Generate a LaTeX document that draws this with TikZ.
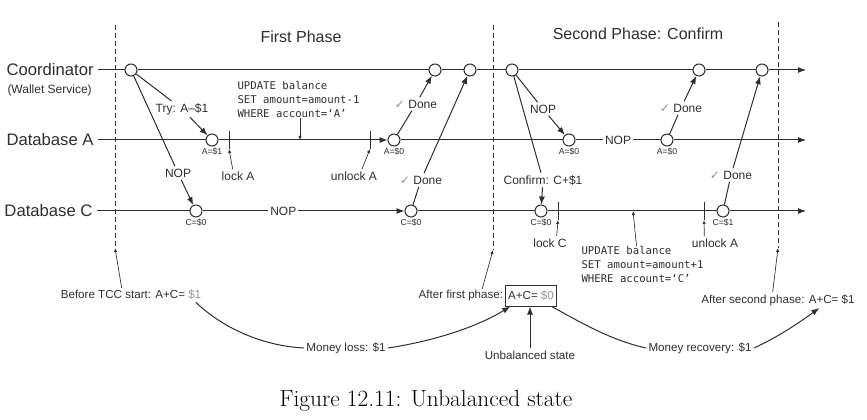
\documentclass[tikz,border=0pt]{standalone}
\usepackage{fontspec}
\usetikzlibrary{arrows.meta}
\newfontfamily\sansfam{Liberation Sans}
\newfontfamily\monofam{DejaVu Sans Mono}
\newfontfamily\checkfam{DejaVu Sans}
\definecolor{ink}{gray}{0.18}
\definecolor{dimtext}{gray}{0.58}
\newcommand{\donemark}{{\checkfam\color{dimtext}✓}}

\tikzset{every picture/.style={line width=0.75pt}}
\tikzset{
  evt/.style={circle,draw,fill=white,minimum size=9pt,inner sep=0pt},
  val/.style={font=\sansfam\fontsize{6.5}{7}\selectfont,inner sep=1pt},
  lane/.style={font=\sansfam\fontsize{12.5}{14}\selectfont,inner sep=3pt,anchor=west},
  phasetitle/.style={font=\sansfam\fontsize{12}{14}\selectfont},
  msg/.style={font=\sansfam\fontsize{9}{10}\selectfont,inner sep=1.5pt},
  note/.style={font=\sansfam\fontsize{8.7}{10}\selectfont,inner sep=1.5pt},
  codetext/.style={font=\monofam\fontsize{8}{10.5}\selectfont,align=left,inner sep=0pt,anchor=north west},
  fwd/.style={-{Latex[length=6pt,width=4.5pt]}},
  hint/.style={line width=0.5pt,-{Latex[length=3pt,width=2.5pt]}},
  phaseline/.style={line width=0.6pt,dash pattern=on 4pt off 2pt}
}

\begin{document}
\begin{tikzpicture}[x=0.75pt,y=0.75pt,yscale=-1,xscale=1,color=ink]
    \useasboundingbox (0,0) rectangle (867,420);
    % Phase borders
    \coordinate (d1t) at (115,25);  \coordinate (d1b) at (115,248);
    \coordinate (d2t) at (493,25);  \coordinate (d2b) at (493,250);
    \coordinate (d3t) at (778,22);  \coordinate (d3b) at (778,248);
    \draw[phaseline] (d1t) -- (d1b);
    \draw[phaseline] (d2t) -- (d2b);
    \draw[phaseline] (d3t) -- (d3b);
    % Text Node
    \node[phasetitle] (first) at (301,37) {First Phase};
    \node[phasetitle] (second) at (638,34) {Second Phase: Confirm};
    % Lane labels
    \node[lane] (coord) at (2,70) {Coordinator};
    \node[lane,font=\sansfam\fontsize{9}{10}\selectfont] (wallet) at (3,90) {(Wallet Service)};
    \node[lane] (dbA) at (2,140) {Database A};
    \node[lane] (dbC) at (0,211) {Database C};
    % Coordinator events
    \node[evt] (co1) at (131,70) {};
    \node[evt] (co2) at (435,70) {};
    \node[evt] (co3) at (470,70) {};
    \node[evt] (co4) at (512,70) {};
    \node[evt] (co5) at (699,70) {};
    \node[evt] (co6) at (762,70) {};
    % Database A events
    \node[evt,label={[val]below:A=\$1}] (da1) at (212,140) {};
    \node[evt,label={[val]below:A=\$0}] (da2) at (394,140) {};
    \node[evt,label={[val]below:A=\$0}] (da3) at (569,140) {};
    \node[evt,label={[val]below:A=\$0}] (da4) at (667,140) {};
    % Database C events
    \node[evt,label={[val]below:C=\$0}] (dc1) at (196,211) {};
    \node[evt,label={[val]below:C=\$0}] (dc2) at (411,211) {};
    \node[evt,label={[val]below:C=\$0}] (dc3) at (541,211) {};
    \node[evt,label={[val]below:C=\$1}] (dc4) at (723,211) {};
    \coordinate (coend) at (806,70);
    \coordinate (daend) at (806,140);
    \coordinate (dcend) at (806,211);
    %Straight Lines
    \draw[fwd] (coord) -- (co1) -- (co2) -- (co3) -- (co4) -- (co5) -- (co6) -- (coend);
    \draw (dbA) -- (da1);
    \draw[fwd] (da1) -- (da2);
    \draw (da2) -- (da3) -- node[msg,fill=white] (nopa) {NOP} (da4);
    \draw[fwd] (da4) -- (daend);
    \draw (dbC) -- (dc1);
    \draw[fwd] (dc1) -- node[msg,fill=white,pos=0.4] (nopc) {NOP} (dc2);
    \draw (dc2) -- (dc3) -- (dc4);
    \draw[fwd] (dc4) -- (dcend);
    % Lock ticks
    \coordinate (lka1) at (229,131); \coordinate (lka2) at (229,149);
    \coordinate (ula1) at (370,131); \coordinate (ula2) at (370,149);
    \coordinate (lkc1) at (558,202); \coordinate (lkc2) at (558,220);
    \coordinate (ulc1) at (704,202); \coordinate (ulc2) at (704,220);
    \draw (lka1) -- (lka2);
    \draw (ula1) -- (ula2);
    \draw (lkc1) -- (lkc2);
    \draw (ulc1) -- (ulc2);
    \node[msg] (locka) at (238,176) {lock A};
    \node[msg] (unlocka) at (354,176) {unlock A};
    \node[msg] (lockc) at (550,243) {lock C};
    \node[msg] (unlockc) at (715,243) {unlock A};
    \draw[hint] ([xshift=-4pt]locka.north) -- (lka2);
    \draw[hint] ([xshift=6pt]unlocka.north) -- (ula2);
    \draw[hint] ([xshift=5pt]lockc.north) -- (lkc2);
    \draw[hint] ([xshift=-8pt]unlockc.north) -- (ulc2);
    % Messages, first phase
    \node[msg] (try) at (182,109) {Try: A–\$1};
    \node[msg] (nop1) at (178,173) {NOP};
    \draw (co1) -- (try);
    \draw[fwd] (try) -- (da1);
    \draw (co1) -- (nop1);
    \draw[fwd] (nop1) -- (dc1);
    \node[msg] (done1) at (416,104) {\donemark\ Done};
    \node[msg] (done2) at (421,180) {\donemark\ Done};
    \draw (da2) -- (done1);
    \draw[fwd] (done1) -- (co2);
    \draw (dc2) -- (done2);
    \draw[fwd] (done2) -- (co3);
    % Messages, second phase
    \node[msg] (nop2) at (543,109) {NOP};
    \node[msg] (confirm) at (543,180) {Confirm: C+\$1};
    \draw (co4) -- (nop2);
    \draw[fwd] (nop2) -- (da3);
    \draw (co4) -- (confirm);
    \draw[fwd] (confirm) -- (dc3);
    \node[msg] (done3) at (681,108) {\donemark\ Done};
    \node[msg] (done4) at (731,175) {\donemark\ Done};
    \draw (da4) -- (done3);
    \draw[fwd] (done3) -- (co5);
    \draw (dc4) -- (done4);
    \draw[fwd] (done4) -- (co6);
    % SQL statements
    \node[codetext] (codea) at (237,81) {UPDATE balance\\SET amount=amount-1\\WHERE account=‘A’};
    \node[codetext] (codec) at (581,246) {UPDATE balance\\SET amount=amount+1\\WHERE account=‘C’};
    \coordinate (upa) at (300,140);
    \coordinate (upc) at (633,211);
    \draw[hint] (codea.south -| upa) -- (upa);
    \draw[hint] ([xshift=-4.5pt]codec.north) -- (upc);
    % Balance states
    \node[note] (before) at (131,295) {Before TCC start: A+C= {\color{dimtext}\$1}};
    \node[note,draw,inner xsep=2pt,inner ysep=4pt] (sum1) at (531,296) {A+C= {\color{dimtext}\$0}};
    \node[note,anchor=east,inner sep=1pt] (after1) at (sum1.west) {After first phase:};
    \node[note] (after2) at (778,300) {After second phase: A+C= \$1};
    \node[note] (loss) at (346,348) {Money loss: \$1};
    \node[note] (unbal) at (530,355) {Unbalanced state};
    \node[note] (recov) at (700,348) {Money recovery: \$1};
    \draw[hint] ([xshift=-7pt]before.north) -- (d1b);
    \draw[hint] ([xshift=16pt]after1.north) -- (d2b);
    \draw[hint] ([xshift=-4pt]after2.north) -- (d3b);
    \draw ([xshift=-6pt]before.south east) .. controls (225,330) and (265,346) .. (loss.west);
    \draw[fwd] (loss.east) .. controls (440,340) and (480,325) .. ([xshift=4pt]sum1.south west);
    \draw[fwd] (unbal.north) -- (unbal.north |- sum1.south);
    \draw ([xshift=-4pt]sum1.south east) .. controls (580,322) and (610,340) .. (recov.west);
    \draw[fwd] (recov.east) .. controls (780,336) and (800,322) .. ([xshift=31pt]after2.south);
    % Caption
    \node[font=\normalfont\fontsize{17.5}{20}\selectfont,text=black] (caption) at (426,401) {Figure 12.11: Unbalanced state};
\end{tikzpicture}
\end{document}
